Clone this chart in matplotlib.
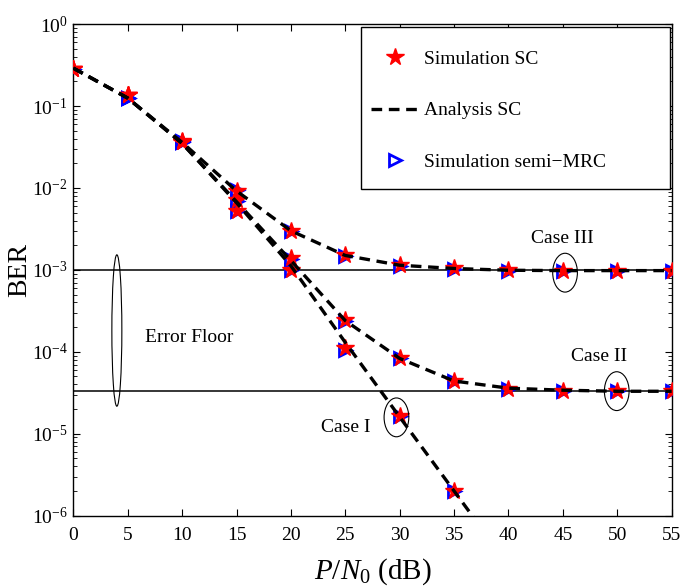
import matplotlib
matplotlib.use("Agg")
import matplotlib.pyplot as plt
from matplotlib.patches import Ellipse, Rectangle
from matplotlib.lines import Line2D
from matplotlib.ticker import LogLocator, NullFormatter, MultipleLocator

plt.rcParams['font.family'] = ['Liberation Serif', 'DejaVu Serif']
plt.rcParams['mathtext.fontset'] = 'custom'
plt.rcParams['mathtext.rm'] = 'Liberation Serif'
plt.rcParams['mathtext.it'] = 'Liberation Serif:italic'
plt.rcParams['mathtext.bf'] = 'Liberation Serif:bold'

# SNR grid (dB)
snr = [0, 5, 10, 15, 20, 25, 30, 35, 40, 45, 50, 55]

# Simulated BER, selection combining
sim_sc_case1 = [0.28, 0.135, 0.036, 0.0052, 0.0010, 0.00011, 0.0000165, 0.0000020]
sim_sc_case2 = [0.28, 0.135, 0.036, 0.0072, 0.00140, 0.000245, 0.000085, 0.000044,
                0.000035, 0.0000335, 0.000033, 0.000033]
sim_sc_case3 = [0.28, 0.135, 0.037, 0.0093, 0.0030, 0.00150, 0.00114, 0.00104,
                0.00099, 0.00098, 0.00098, 0.00098]

# Simulated BER, semi-MRC
sim_mrc_case1 = [0.28, 0.125, 0.036, 0.0052, 0.0010, 0.000105, 0.0000165, 0.0000020]
sim_mrc_case2 = [0.28, 0.125, 0.036, 0.0070, 0.00135, 0.00024, 0.000083, 0.000044,
                 0.000035, 0.0000335, 0.000033, 0.000033]
sim_mrc_case3 = [0.28, 0.125, 0.037, 0.0095, 0.0030, 0.00148, 0.00113, 0.00103,
                 0.00098, 0.00098, 0.00098, 0.00098]

# Analytical BER, selection combining
snr_ana_case1 = [0, 5, 10, 15, 20, 25, 30, 35, 40]
ana_case1 = [0.29, 0.125, 0.035, 0.0066, 0.00112, 0.00013, 0.0000160, 0.0000020, 0.00000025]
ana_case2 = [0.29, 0.125, 0.035, 0.0068, 0.00130, 0.00024, 0.000083, 0.000044,
             0.000036, 0.000034, 0.000033, 0.000033]
ana_case3 = [0.29, 0.125, 0.036, 0.0092, 0.0030, 0.00150, 0.00114, 0.00104,
             0.00099, 0.00098, 0.00098, 0.00098]

# Error floors
floor_high = 1e-3
floor_low = 3.3e-5

fig = plt.figure(figsize=(6.81, 5.88), dpi=100)
ax = fig.add_axes([0.1077, 0.123, 0.8786, 0.836])
ax.set_yscale('log')
ax.set_xlim(0, 55)
ax.set_ylim(1e-6, 1)

dash = (0, (3.2, 2.0))
star_kw = dict(linestyle='none', marker='*', markersize=13, color='red',
               markeredgecolor='red', markeredgewidth=1, zorder=4)
tri_kw = dict(linestyle='none', marker='>', markersize=9, markerfacecolor='none',
              markeredgecolor='blue', markeredgewidth=2, zorder=3)
line_kw = dict(color='black', linestyle=dash, linewidth=2.4, zorder=5)

ax.axhline(floor_high, color='black', linewidth=1.1, zorder=2)
ax.axhline(floor_low, color='black', linewidth=1.1, zorder=2)

ax.plot(snr[:len(sim_mrc_case1)], sim_mrc_case1, **tri_kw)
ax.plot(snr, sim_mrc_case2, **tri_kw)
ax.plot(snr, sim_mrc_case3, **tri_kw)

ax.plot(snr[:len(sim_sc_case1)], sim_sc_case1, **star_kw)
ax.plot(snr, sim_sc_case2, **star_kw)
ax.plot(snr, sim_sc_case3, **star_kw)

ax.plot(snr_ana_case1, ana_case1, **line_kw)
ax.plot(snr, ana_case2, **line_kw)
ax.plot(snr, ana_case3, **line_kw)

# Ticks
ax.xaxis.set_major_locator(MultipleLocator(5))
ax.yaxis.set_major_locator(LogLocator(base=10, numticks=10))
ax.yaxis.set_minor_locator(LogLocator(base=10, subs=range(2, 10), numticks=20))
ax.yaxis.set_minor_formatter(NullFormatter())
ax.tick_params(which='both', direction='in', top=True, right=True, labelsize=14)
ax.tick_params(which='major', length=5, width=0.8)
ax.tick_params(which='minor', length=3, width=0.6)
ax.tick_params(axis='x', which='major', pad=8)
ax.tick_params(axis='y', which='major', pad=4)
for s in ax.spines.values():
    s.set_linewidth(1.0)

ax.set_xlabel(r'$P/N_0$ (dB)', fontsize=21, labelpad=9)
ax.set_ylabel('BER', fontsize=20, labelpad=0)

# Annotations: ellipses sized in axes fraction, centred at data points
to_axes = ax.transData + ax.transAxes.inverted()

def ring(x, y, w, h):
    cx, cy = to_axes.transform((x, y))
    ax.add_patch(Ellipse((cx, cy), w, h, transform=ax.transAxes, fill=False,
                         edgecolor='black', linewidth=0.8, zorder=6))

ring(4.0, 10 ** -3.74, 0.0167, 0.308)
ring(45.2, 10 ** -3.034, 0.0413, 0.079)
ring(49.95, 10 ** -4.48, 0.0413, 0.079)
ring(29.7, 10 ** -4.80, 0.0413, 0.079)

ax.text(6.6, 1.50e-4, 'Error Floor', fontsize=14, ha='left', va='center')
ax.text(44.95, 2.4e-3, 'Case III', fontsize=14, ha='center', va='center')
ax.text(48.3, 8.8e-5, 'Case II', fontsize=14, ha='center', va='center')
ax.text(25.0, 1.2e-5, 'Case I', fontsize=14, ha='center', va='center')

# Legend: square box with wide margins, entries placed inside it
ax.add_patch(Rectangle((0.4808, 0.6644), 0.5163, 0.3295, transform=ax.transAxes,
                       facecolor='white', edgecolor='black', linewidth=1.0, zorder=9))
handles = [
    Line2D([], [], linestyle='none', marker='*', markersize=13, color='red'),
    Line2D([], [], color='black', linestyle=dash, linewidth=2.4),
    Line2D([], [], linestyle='none', marker='>', markersize=9, markerfacecolor='none',
           markeredgecolor='blue', markeredgewidth=2),
]
labels = ['Simulation SC', 'Analysis SC', 'Simulation semi\u2212MRC']
leg = ax.legend(handles, labels, loc='upper left', bbox_to_anchor=(0.4975, 0.947),
                fontsize=14, frameon=False, borderpad=0.0, borderaxespad=0.0,
                handlelength=2.45, handletextpad=0.3, labelspacing=1.75)
leg.set_zorder(10)

fig.savefig('out.png', dpi=100)
